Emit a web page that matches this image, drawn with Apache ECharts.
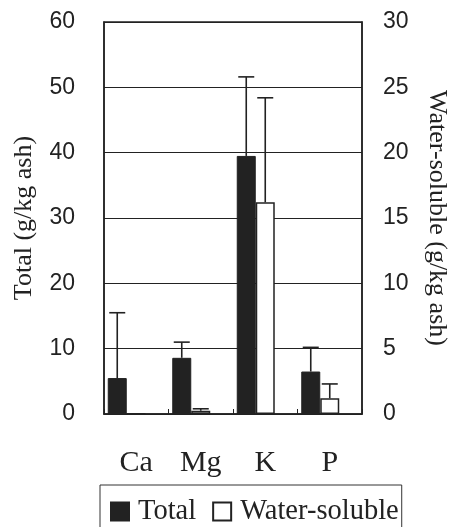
<!DOCTYPE html>
<html>
<head>
<meta charset="utf-8">
<script src="https://cdn.jsdelivr.net/npm/echarts@6/dist/echarts.min.js"></script>
<style>
  html, body { margin: 0; padding: 0; background: #fff; }
  #main { width: 450px; height: 527px; }
</style>
</head>
<body>
<div id="main"></div>
<script>
var categories = ['Ca', 'Mg', 'K', 'P'];
var totalValues = [5.5, 8.6, 39.5, 6.5];
var totalErrors = [10.0, 2.4, 12.1, 3.7];
var solubleValues = [0.05, 0.25, 16.2, 1.2];
var solubleErrors = [0.0, 0.15, 8.0, 1.1];
var leftTicks = [0, 10, 20, 30, 40, 50, 60];
var rightTicks = [0, 5, 10, 15, 20, 25, 30];

var myChart = echarts.init(document.getElementById('main'));

var barW = 19;
var ink = '#222';

// error bar: upward line from bar top plus a cap
function errorBar(values, errors, shift, yIndex) {
    return {
        type: 'custom',
        yAxisIndex: yIndex,
        z: 5,
        silent: true,
        data: values.map(function (v, i) { return [i, v, v + errors[i]]; }),
        renderItem: function (params, api) {
            if (api.value(2) <= api.value(1)) return null;
            var lo = api.coord([api.value(0), api.value(1)]);
            var hi = api.coord([api.value(0), api.value(2)]);
            var x = lo[0] + shift;
            var st = { stroke: ink, lineWidth: 1.6 };
            return {
                type: 'group',
                children: [
                    { type: 'line', shape: { x1: x, y1: lo[1], x2: x, y2: hi[1] }, style: st },
                    { type: 'line', shape: { x1: x - 8, y1: hi[1], x2: x + 8, y2: hi[1] }, style: st }
                ]
            };
        }
    };
}

var option = {
    animation: false,
    grid: {
        left: 104, right: 88, top: 22, bottom: 113,
        show: true, borderColor: ink, borderWidth: 1.5,
        containLabel: false,
        outerBoundsMode: 'none'
    },
    legend: {
        left: 100, top: 485,
        padding: [12, 3, 40, 10],
        borderColor: '#333', borderWidth: 1,
        itemWidth: 18, itemHeight: 18, itemGap: 16,
        icon: 'rect',
        data: ['Total', 'Water-soluble'],
        textStyle: { fontFamily: 'Liberation Serif', fontSize: 28.5, color: ink, padding: [0, 0, 0, 4] }
    },
    xAxis: {
        type: 'category',
        data: categories,
        axisLine: { lineStyle: { color: ink, width: 1.5 } },
        axisTick: { show: true, inside: true, length: 5, lineStyle: { color: ink } },
        axisLabel: { fontFamily: 'Liberation Serif', fontSize: 30, color: ink, margin: 34 }
    },
    yAxis: [
        {
            type: 'value', min: 0, max: 60, interval: 10,
            name: 'Total (g/kg ash)', nameLocation: 'middle', nameGap: 67,
            nameTextStyle: { fontFamily: 'Liberation Serif', fontSize: 26, color: ink },
            axisLine: { show: true, lineStyle: { color: ink, width: 1.5 } },
            axisTick: { show: false },
            splitLine: { show: true, lineStyle: { color: ink, width: 1 } },
            axisLabel: {
                fontFamily: 'Liberation Sans', fontSize: 23, color: ink, margin: 29,
                formatter: function (v) { return leftTicks.indexOf(v) >= 0 ? String(v) : ''; }
            }
        },
        {
            type: 'value', min: 0, max: 30, interval: 5, position: 'right',
            name: 'Water-soluble (g/kg ash)', nameLocation: 'middle', nameGap: 62, nameRotate: -90,
            nameTextStyle: { fontFamily: 'Liberation Serif', fontSize: 26, color: ink },
            axisLine: { show: true, lineStyle: { color: ink, width: 1.5 } },
            axisTick: { show: false },
            splitLine: { show: false },
            axisLabel: {
                fontFamily: 'Liberation Sans', fontSize: 23, color: ink, margin: 21,
                formatter: function (v) { return rightTicks.indexOf(v) >= 0 ? String(v) : ''; }
            }
        }
    ],
    series: [
        {
            name: 'Total', type: 'bar', yAxisIndex: 0, barWidth: barW, barGap: '0%',
            itemStyle: { color: ink, borderColor: ink, borderWidth: 1 },
            data: totalValues
        },
        {
            name: 'Water-soluble', type: 'bar', yAxisIndex: 1, barWidth: barW, barGap: '0%',
            itemStyle: { color: '#fff', borderColor: ink, borderWidth: 1.5 },
            data: solubleValues
        },
        {
            // empty slot so the pair sits left of the category centre
            name: 'spacer', type: 'bar', yAxisIndex: 0, barWidth: barW, barGap: '0%',
            data: []
        },
        errorBar(totalValues, totalErrors, -barW, 0),
        errorBar(solubleValues, solubleErrors, 0, 1)
    ]
};

myChart.setOption(option);
</script>
</body>
</html>
